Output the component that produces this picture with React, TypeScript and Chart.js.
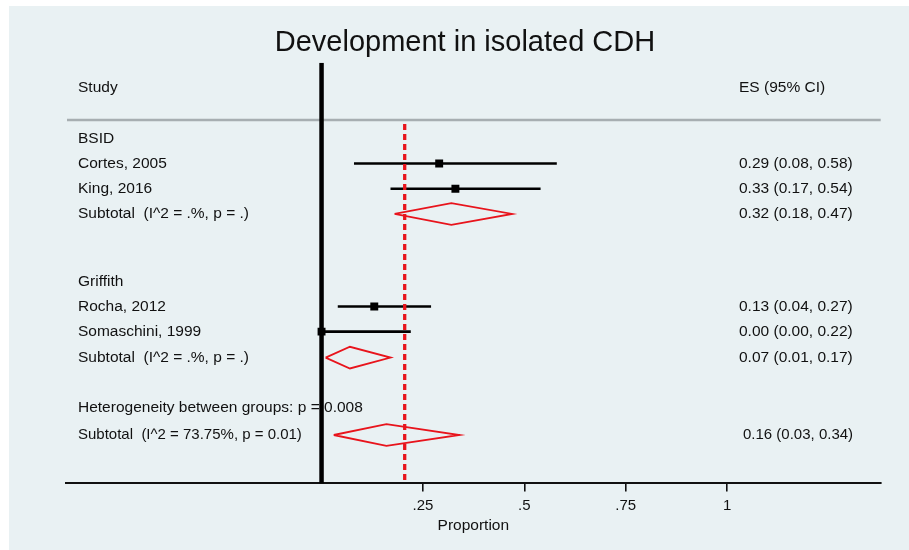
import React, { useEffect, useRef } from "react";
import { Chart, registerables } from "chart.js";

Chart.register(...registerables);

// ---- data ----
const chartTitle = "Development in isolated CDH";
const xAxisTitle = "Proportion";
const headerLeft = "Study";
const headerRight = "ES (95% CI)";

const groupLabels = ["BSID", "Griffith"];
const groupRows = [2, 7.7];

const studyLabels = ["Cortes, 2005", "King, 2016", "Rocha, 2012", "Somaschini, 1999"];
const studyES = [0.29, 0.33, 0.13, 0.0];
const studyLo = [0.08, 0.17, 0.04, 0.0];
const studyHi = [0.58, 0.54, 0.27, 0.22];
const studyRows = [3, 4, 8.67, 9.67];

const subLabels = [
  "Subtotal  (I^2 = .%, p = .)",
  "Subtotal  (I^2 = .%, p = .)",
  "Subtotal  (I^2 = 73.75%, p = 0.01)",
];
const subES = [0.32, 0.07, 0.16];
const subLo = [0.18, 0.01, 0.03];
const subHi = [0.47, 0.17, 0.34];
const subRows = [5, 10.7, 13.77];

const heterogeneityText = "Heterogeneity between groups: p = 0.008";
const heterogeneityRow = 12.7;

const nullLine = 0;
const refLine = 0.205;

const xTickValues = [0.25, 0.5, 0.75, 1];
const xTickLabels = [".25", ".5", ".75", "1"];

// ---- layout constants (rows) ----
const yTop = -1;
const yBottom = 15.69;
const separatorRow = 1.27;
const refLineTopRow = 1.43;
const diamondHalf = 0.43;

const FONT = "'Liberation Sans', Arial, Helvetica, sans-serif";
const RED = "#e8141c";

const fmt = (es: number, lo: number, hi: number) =>
  `${es.toFixed(2)} (${lo.toFixed(2)}, ${hi.toFixed(2)})`;

export default function App() {
  const ref = useRef<HTMLCanvasElement>(null);

  useEffect(() => {
    const canvas = ref.current;
    if (!canvas) return;

    const bgPlugin = {
      id: "bg",
      beforeDraw(chart: any) {
        const ctx = chart.ctx;
        ctx.save();
        ctx.fillStyle = "#ffffff";
        ctx.fillRect(0, 0, chart.width, chart.height);
        ctx.fillStyle = "#e9f1f3";
        ctx.fillRect(9, 6, chart.width - 9, chart.height - 6);
        // separator line
        const y = chart.scales.y.getPixelForValue(separatorRow);
        ctx.strokeStyle = "#a7aeb1";
        ctx.lineWidth = 2.5;
        ctx.beginPath();
        ctx.moveTo(chart.chartArea.left + 1, y);
        ctx.lineTo(chart.chartArea.right, y);
        ctx.stroke();
        ctx.restore();
      },
    };

    const textPlugin = {
      id: "texts",
      afterDraw(chart: any) {
        const ctx = chart.ctx;
        const ys = chart.scales.y;
        const leftX = 78;
        const rightX = 739;
        ctx.save();
        ctx.fillStyle = "#111111";
        ctx.textBaseline = "middle";
        ctx.textAlign = "center";
        ctx.font = `29px ${FONT}`;
        ctx.fillText(chartTitle, 465, 43);

        ctx.textAlign = "left";
        ctx.font = `15.5px ${FONT}`;
        ctx.fillText(headerLeft, leftX, ys.getPixelForValue(0));
        ctx.fillText(headerRight, rightX, ys.getPixelForValue(0));
        groupLabels.forEach((g, i) => ctx.fillText(g, leftX, ys.getPixelForValue(groupRows[i])));
        studyLabels.forEach((s, i) => {
          const y = ys.getPixelForValue(studyRows[i]);
          ctx.fillText(s, leftX, y);
          ctx.fillText(fmt(studyES[i], studyLo[i], studyHi[i]), rightX, y);
        });
        subLabels.forEach((s, i) => {
          const y = ys.getPixelForValue(subRows[i]);
          const last = i === subLabels.length - 1;
          ctx.font = `${last ? 15 : 15.5}px ${FONT}`;
          ctx.fillText(s, leftX, y);
          ctx.fillText(fmt(subES[i], subLo[i], subHi[i]), last ? rightX + 4 : rightX, y);
        });
        ctx.font = `15.5px ${FONT}`;
        ctx.fillText(heterogeneityText, leftX, ys.getPixelForValue(heterogeneityRow));
        ctx.restore();
      },
    };

    const datasets: any[] = [];
    datasets.push({
      label: "ref",
      data: [
        { x: refLine, y: refLineTopRow },
        { x: refLine, y: yBottom },
      ],
      showLine: true,
      borderColor: RED,
      borderWidth: 3.3,
      borderDash: [6, 4],
      pointRadius: 0,
    });
    datasets.push({
      label: "points",
      data: studyES.map((v, i) => ({ x: v, y: studyRows[i] })),
      pointStyle: "rect",
      pointRadius: 5.6,
      backgroundColor: "#000",
      borderColor: "#000",
      borderWidth: 0,
      showLine: false,
    });
    datasets.push({
      label: "null",
      data: [
        { x: nullLine, y: yTop },
        { x: nullLine, y: yBottom },
      ],
      showLine: true,
      borderColor: "#000",
      borderWidth: 4.5,
      pointRadius: 0,
    });
    studyES.forEach((_, i) => {
      datasets.push({
        label: "ci" + i,
        data: [
          { x: studyLo[i], y: studyRows[i] },
          { x: studyHi[i], y: studyRows[i] },
        ],
        showLine: true,
        borderColor: "#000",
        borderWidth: 2.6,
        pointRadius: 0,
      });
    });
    subES.forEach((_, i) => {
      const r = subRows[i];
      datasets.push({
        label: "diamond" + i,
        data: [
          { x: subLo[i], y: r },
          { x: subES[i], y: r - diamondHalf },
          { x: subHi[i], y: r },
          { x: subES[i], y: r + diamondHalf },
          { x: subLo[i], y: r },
        ],
        showLine: true,
        borderColor: RED,
        borderWidth: 1.8,
        borderJoinStyle: "miter",
        pointRadius: 0,
        fill: false,
      });
    });

    const chart = new Chart(canvas, {
      type: "scatter",
      data: { datasets },
      plugins: [bgPlugin, textPlugin],
      options: {
        animation: false,
        responsive: false,
        devicePixelRatio: 1,
        layout: { padding: { left: 66, right: 28.3, top: 62.7, bottom: 15 } },
        plugins: {
          legend: { display: false },
          tooltip: { enabled: false },
          title: { display: false },
        },
        scales: {
          x: {
            type: "linear",
            min: -0.63,
            max: 1.3785,
            afterBuildTicks: (scale: any) => {
              scale.ticks = xTickValues.map((v) => ({ value: v }));
            },
            ticks: {
              autoSkip: false,
              maxRotation: 0,
              padding: 5,
              color: "#111",
              font: { family: FONT, size: 15 },
              callback: (v: any) => {
                const idx = xTickValues.indexOf(Number(v));
                return idx >= 0 ? xTickLabels[idx] : "";
              },
            },
            grid: {
              drawOnChartArea: false,
              drawTicks: true,
              tickLength: 8,
              color: "#111",
              lineWidth: 1.6,
            },
            border: { display: true, color: "#111", width: 2 },
            title: {
              display: true,
              text: xAxisTitle,
              color: "#111",
              font: { family: FONT, size: 15.5 },
              padding: { top: -3, bottom: 0 },
            },
          },
          y: {
            type: "linear",
            display: false,
            reverse: true,
            min: yTop,
            max: yBottom,
          },
        },
      } as any,
    });
    return () => chart.destroy();
  }, []);

  return (
    <div style={{ position: "absolute", left: 0, top: 0, width: 909, height: 550 }}>
      <canvas ref={ref} width={909} height={550} style={{ display: "block", width: 909, height: 550 }} />
    </div>
  );
}
